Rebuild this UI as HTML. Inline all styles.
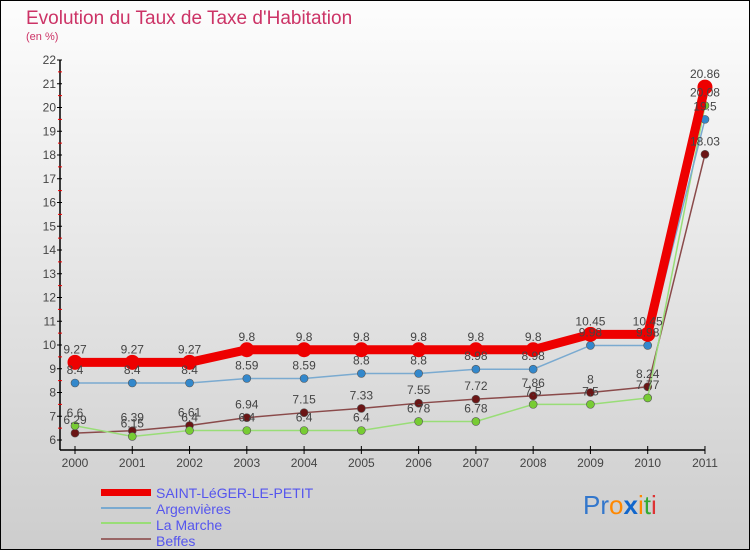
<!DOCTYPE html>
<html><head><meta charset="utf-8"><style>
body{margin:0;}
#wrap{width:750px;height:550px;position:relative;font-family:"Liberation Sans",sans-serif;}
svg text{font-family:"Liberation Sans",sans-serif;}
</style></head><body>
<div id="wrap">
<svg id="chart" width="750" height="550">
<defs><linearGradient id="bg" x1="0" y1="0" x2="0" y2="1"><stop offset="0" stop-color="#fdfdfd"/><stop offset="1" stop-color="#cdcdcd"/></linearGradient></defs>
<rect x="0.5" y="0.5" width="749" height="549" fill="url(#bg)" stroke="#000"/>
<text x="26" y="24" font-size="19" fill="#cc3366">Evolution du Taux de Taxe d'Habitation</text>
<text x="26" y="40" font-size="11" fill="#cc3366">(en %)</text>
<g id="axes"></g><g id="series"></g><g id="labels"></g>
<g>
<rect x="101" y="489" width="50" height="7" fill="#ee0000"/>
<text x="156" y="498" font-size="14" fill="#5555ee">SAINT-LéGER-LE-PETIT</text>
<line x1="101" y1="508" x2="151" y2="508" stroke="#7aaad0" stroke-width="2"/>
<text x="156" y="514" font-size="14" fill="#5555ee">Argenvières</text>
<line x1="101" y1="523" x2="151" y2="523" stroke="#99dd77" stroke-width="2"/>
<text x="156" y="530" font-size="14" fill="#5555ee">La Marche</text>
<line x1="101" y1="539" x2="151" y2="539" stroke="#996666" stroke-width="2"/>
<text x="156" y="546" font-size="14" fill="#5555ee">Beffes</text>
</g>
<text x="583" y="514" font-size="26"><tspan fill="#3377cc">Pr</tspan><tspan fill="#ff8800">o</tspan><tspan fill="#1166cc" font-weight="bold">x</tspan><tspan fill="#ff8800">i</tspan><tspan fill="#33aa33">t</tspan><tspan fill="#dd3333">i</tspan></text>
</svg>
</div>
<script>
const years=[2000,2001,2002,2003,2004,2005,2006,2007,2008,2009,2010,2011];
const saintLeger=[9.27,9.27,9.27,9.8,9.8,9.8,9.8,9.8,9.8,10.45,10.45,20.86];
const argenvieres=[8.4,8.4,8.4,8.59,8.59,8.8,8.8,8.98,8.98,9.98,9.98,19.5];
const laMarche=[6.6,6.15,6.4,6.4,6.4,6.4,6.78,6.78,7.5,7.5,7.77,20.08];
const beffes=[6.29,6.39,6.61,6.94,7.15,7.33,7.55,7.72,7.86,8,8.24,18.03];
const yTicks=[6,7,8,9,10,11,12,13,14,15,16,17,18,19,20,21,22];

const NS='http://www.w3.org/2000/svg';
const X0=75,XSTEP=57.27,Y0=440,YPX=23.75;
const xs=i=>X0+i*XSTEP;
const ys=v=>Y0-(v-6)*YPX;
function mk(tag,attrs,parent){const e=document.createElementNS(NS,tag);for(const k in attrs)e.setAttribute(k,attrs[k]);parent.appendChild(e);return e;}
const axes=document.getElementById('axes'),ser=document.getElementById('series'),lab=document.getElementById('labels');

let a=mk('line',{x1:60,y1:ys(22),x2:60,y2:450,stroke:'#000','stroke-width':1.5},axes);


a=mk('line',{x1:60,y1:450,x2:xs(11),y2:450,stroke:'#000','stroke-width':1.5},axes);


yTicks.forEach((t,i)=>{
  mk('line',{x1:57,y1:ys(t),x2:62,y2:ys(t),stroke:'#000'},axes);
  if(i<yTicks.length-1) mk('line',{x1:58,y1:ys(t+0.5),x2:62,y2:ys(t+0.5),stroke:'#e00'},axes);
  const tx=mk('text',{x:56,y:ys(t)+4,'font-size':12,fill:'#444','text-anchor':'end'},axes);
  tx.textContent=t;
  
  
});
years.forEach((y,i)=>{
  mk('line',{x1:xs(i),y1:446,x2:xs(i),y2:454,stroke:'#000'},axes);
  const tx=mk('text',{x:xs(i),y:467,'font-size':12,fill:'#444','text-anchor':'middle'},axes);
  tx.textContent=y;
  
  
});
function series(vals,name,color,dot,w,r){
  const p=mk('polyline',{points:vals.map((v,i)=>xs(i)+','+ys(v)).join(' '),fill:'none',stroke:color,'stroke-width':w},ser);
  
  
  vals.forEach((v,i)=>{
    const c=mk('circle',{cx:xs(i),cy:ys(v),r:r,fill:dot,stroke:'#555','stroke-width':r>5?0:0.6},ser);
    
    
    const t=mk('text',{x:xs(i),y:ys(v)-9,'font-size':12,fill:'#444','text-anchor':'middle'},lab);
    t.textContent=v;
    
    
  });
}
series(beffes,'beffes','#8a4a4a','#6b1515',1.5,4);
series(laMarche,'la-marche','#99dd77','#77cc33',1.5,4);
series(argenvieres,'argenvieres','#7aaad0','#3388cc',1.5,4);
series(saintLeger,'saint-leger','#ee0000','#ee0000',9,7.5);
</script>
</body></html>
